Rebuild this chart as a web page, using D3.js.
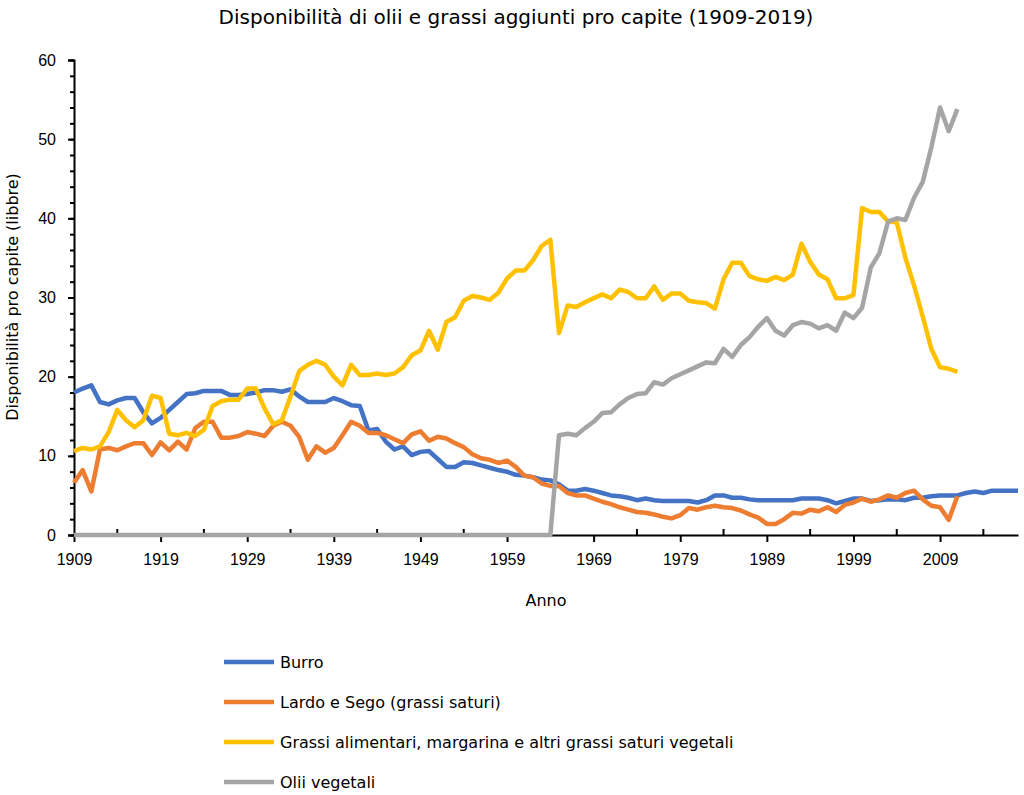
<!DOCTYPE html>
<html><head><meta charset="utf-8">
<script src="https://cdn.jsdelivr.net/npm/d3@7"></script>
<style>body{margin:0;background:#fff;font-family:"DejaVu Sans",sans-serif;}</style>
</head><body><div id="chart"></div>
<script>
const years = d3.range(1909, 2019);
const burro = [18,18.5,18.9,16.8,16.5,17,17.3,17.3,15.5,14.1,14.8,15.8,16.8,17.8,17.9,18.2,18.2,18.2,17.7,17.7,17.8,18,18.3,18.3,18.1,18.4,17.5,16.8,16.8,16.8,17.3,16.9,16.4,16.3,13.2,13.4,11.8,10.8,11.2,10.1,10.5,10.6,9.6,8.6,8.6,9.2,9.1,8.8,8.5,8.2,8.0,7.6,7.5,7.3,7.0,6.9,6.4,5.6,5.6,5.8,5.6,5.3,5.0,4.9,4.7,4.4,4.6,4.4,4.3,4.3,4.3,4.3,4.1,4.4,5.0,5.0,4.7,4.7,4.5,4.4,4.4,4.4,4.4,4.4,4.6,4.6,4.6,4.4,4.0,4.3,4.6,4.6,4.3,4.4,4.5,4.5,4.4,4.7,4.7,4.9,5.0,5.0,5.0,5.3,5.5,5.3,5.6,5.6,5.6,5.6];
const lardo = [6.6,8.2,5.5,10.8,11,10.7,11.2,11.6,11.6,10.1,11.7,10.7,11.8,10.8,13.5,14.3,14.3,12.3,12.3,12.5,13,12.8,12.5,13.8,14.3,13.8,12.4,9.5,11.2,10.4,11,12.6,14.3,13.8,12.9,12.9,12.6,12.1,11.6,12.7,13.1,11.9,12.4,12.2,11.6,11.1,10.2,9.7,9.5,9.1,9.4,8.6,7.5,7.3,6.5,6.2,6.2,5.3,5.0,5.0,4.6,4.2,3.9,3.5,3.2,2.9,2.8,2.6,2.3,2.1,2.5,3.4,3.2,3.5,3.7,3.5,3.4,3.1,2.6,2.2,1.4,1.4,2.0,2.8,2.7,3.2,3.0,3.5,2.9,3.8,4.1,4.6,4.2,4.5,5.0,4.7,5.3,5.6,4.5,3.7,3.5,1.9,4.9];
const grassi = [10.6,11,10.8,11.2,13,15.8,14.5,13.6,14.5,17.6,17.3,12.8,12.6,12.9,12.5,13.3,16.3,16.9,17.1,17.1,18.5,18.5,16,14,14.5,17.5,20.7,21.5,22,21.5,20,18.9,21.5,20.2,20.2,20.4,20.2,20.4,21.2,22.7,23.3,25.8,23.4,26.9,27.5,29.6,30.2,30,29.7,30.6,32.4,33.4,33.4,34.7,36.5,37.3,25.5,29,28.8,29.4,29.9,30.4,29.9,31,30.7,29.9,29.9,31.4,29.7,30.5,30.5,29.6,29.4,29.3,28.6,32.3,34.4,34.4,32.7,32.3,32.1,32.6,32.2,32.9,36.8,34.5,32.9,32.3,29.9,29.9,30.3,41.3,40.8,40.8,39.6,39.5,35,31.5,27.6,23.5,21.2,21.0,20.6];
const olii = [...Array(56).fill(0),12.6,12.8,12.6,13.5,14.3,15.4,15.5,16.5,17.3,17.8,17.9,19.3,19.0,19.8,20.3,20.8,21.3,21.8,21.7,23.5,22.5,24,25,26.3,27.4,25.8,25.2,26.5,26.9,26.7,26.1,26.5,25.8,28.1,27.4,28.7,33.8,35.6,39.6,40,39.8,42.6,44.6,49,54,51,53.8];
const series = [
  {name:"Burro", values:burro, color:"#4472C4"},
  {name:"Lardo e Sego (grassi saturi)", values:lardo, color:"#ED7D31"},
  {name:"Grassi alimentari, margarina e altri grassi saturi vegetali", values:grassi, color:"#FFC000"},
  {name:"Olii vegetali", values:olii, color:"#A5A5A5"}
];
const xTicks = d3.range(1909, 2019, 10);

const W = 1024, H = 795;
const svg = d3.select("#chart").append("svg").attr("width", W).attr("height", H);
const x = d3.scaleLinear().domain([1909, 2018]).range([74, 1018]);
const y = d3.scaleLinear().domain([0, 60]).range([535, 60]);

svg.append("text").attr("x", 516).attr("y", 24).attr("text-anchor", "middle")
  .attr("font-size", 20).text("Disponibilità di olii e grassi aggiunti pro capite (1909-2019)");

// y axis
const ya = svg.append("g").attr("transform", "translate(74,0)")
  .call(d3.axisLeft(y).tickValues(d3.range(0, 61, 10)).tickSize(6).tickPadding(12));
ya.selectAll("text").attr("font-size", 16).attr("fill", "#000");
svg.append("g").attr("transform", "translate(74,0)")
  .call(d3.axisLeft(y).tickValues(d3.range(0, 61, 2)).tickSize(4).tickFormat(""))
  .select(".domain").remove();
svg.selectAll("path.domain, .tick line").attr("stroke", "#000").attr("stroke-width", 2);

// x axis
const xa = svg.append("g").attr("transform", "translate(0,535)")
  .call(d3.axisBottom(x).tickValues(xTicks).tickFormat(d3.format("d")).tickSize(7).tickSizeOuter(0).tickPadding(12));
xa.selectAll("text").attr("font-size", 16).attr("fill", "#000");
xa.selectAll("path, line").attr("stroke", "#000").attr("stroke-width", 2);
xa.append("g").selectAll("line").data(d3.range(1914, 2019, 10)).join("line")
  .attr("x1", d => x(d)).attr("x2", d => x(d)).attr("y1", 0).attr("y2", -6)
  .attr("stroke", "#000").attr("stroke-width", 2);

svg.append("text").attr("transform", "translate(18,297) rotate(-90)").attr("text-anchor", "middle")
  .attr("font-size", 16).text("Disponibilità pro capite (libbre)");
svg.append("text").attr("x", 546).attr("y", 606).attr("text-anchor", "middle")
  .attr("font-size", 16).text("Anno");

const line = d3.line().x((d, i) => x(years[i])).y(d => y(d));
svg.append("g").selectAll("path").data(series).join("path")
  .attr("d", s => line(s.values)).attr("fill", "none")
  .attr("stroke", s => s.color).attr("stroke-width", 4.5).attr("stroke-linejoin", "round");

const lg = svg.append("g").selectAll("g").data(series).join("g")
  .attr("transform", (d, i) => `translate(224,${662 + i * 40})`);
lg.append("line").attr("x1", 0).attr("x2", 50).attr("stroke", d => d.color).attr("stroke-width", 4.5);
lg.append("text").attr("x", 56).attr("y", 6).attr("font-size", 16).text(d => d.name);
</script></body></html>
